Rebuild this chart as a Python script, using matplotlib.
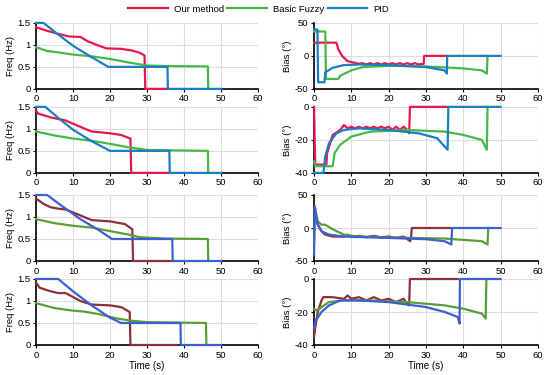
import matplotlib
matplotlib.use("Agg")
import matplotlib.pyplot as plt

plt.rcParams['font.family'] = ['Liberation Sans', 'DejaVu Sans']

LABELS = ["Our method", "Basic Fuzzy", "PID"]
COLORS_TOP = ["#e8174a", "#46b84a", "#1a7fc1"]
COLORS_BOT = ["#8e2f3c", "#5a9e3a", "#3d5fd2"]

# ---- frequency curves (time, Hz) ----
f1_our_t = [0, 3, 6, 9, 12, 14, 17, 19, 23, 26, 28, 29.3, 29.5, 35]
f1_our_v = [1.4, 1.32, 1.25, 1.19, 1.18, 1.08, 0.98, 0.92, 0.91, 0.87, 0.82, 0.76, 0, 0]
f1_fuz_t = [0, 1, 3, 5, 10, 15, 20, 25, 30, 35, 46.4, 46.5]
f1_fuz_v = [0.94, 0.92, 0.86, 0.84, 0.78, 0.74, 0.68, 0.6, 0.53, 0.52, 0.51, 0]
f1_pid_t = [0, 2, 5, 10, 15, 19.5, 35.5, 35.6, 50]
f1_pid_v = [1.5, 1.5, 1.3, 0.98, 0.72, 0.5, 0.5, 0, 0]

f2_our_t = [0, 0.5, 4, 8, 11, 15, 20, 23, 25.5, 25.7, 36]
f2_our_v = [1.42, 1.35, 1.26, 1.19, 1.08, 0.94, 0.9, 0.86, 0.78, 0, 0]
f2_fuz_t = [0, 5, 10, 15, 20, 25, 30, 46.4, 46.5]
f2_fuz_v = [0.94, 0.85, 0.78, 0.73, 0.66, 0.58, 0.52, 0.5, 0]
f2_pid_t = [0, 2.5, 6, 10, 15, 20, 36, 36.1, 50]
f2_pid_v = [1.5, 1.5, 1.25, 0.98, 0.72, 0.5, 0.5, 0, 0]

f3_our_t = [0, 2, 4, 6, 8, 11, 15, 20, 24, 26, 26.2, 37]
f3_our_v = [1.42, 1.3, 1.22, 1.19, 1.17, 1.07, 0.93, 0.9, 0.84, 0.72, 0, 0]
f3_fuz_t = [0, 5, 10, 15, 20, 25, 28, 35, 46.4, 46.5]
f3_fuz_v = [0.95, 0.86, 0.8, 0.76, 0.68, 0.6, 0.54, 0.51, 0.5, 0]
f3_pid_t = [0, 3, 7, 12, 17, 20.5, 36.8, 36.9, 50]
f3_pid_v = [1.5, 1.5, 1.25, 0.95, 0.7, 0.5, 0.5, 0, 0]

f4_our_t = [0, 1, 4, 6, 8, 12, 15, 20, 23, 25.3, 25.5, 38]
f4_our_v = [1.42, 1.3, 1.22, 1.18, 1.18, 1.0, 0.92, 0.9, 0.86, 0.75, 0, 0]
f4_fuz_t = [0, 5, 10, 13, 17, 22, 26, 30, 45.9, 46]
f4_fuz_v = [0.95, 0.84, 0.78, 0.76, 0.7, 0.6, 0.55, 0.52, 0.5, 0]
f4_pid_t = [0, 6, 10, 15, 20, 23, 39, 39.1, 50]
f4_pid_v = [1.5, 1.5, 1.22, 0.9, 0.62, 0.5, 0.5, 0, 0]

# ---- bias curves (time, deg) ----
b1_our_t = [0, 6, 6.5, 7.5, 9, 12, 13, 14, 15, 16, 17, 18, 19, 20, 21, 22, 23, 24, 25, 26, 27, 28, 29.4, 29.5, 35.5]
b1_our_v = [20, 20, 10, 0, -8, -12, -11, -13, -11, -13, -11, -13, -11, -13, -11, -13, -11, -13, -11, -13, -11, -13, -12, 0, 0]
b1_fuz_t = [0, 3, 3.2, 6.5, 7, 10, 13, 20, 30, 40, 45, 46.3, 46.5]
b1_fuz_v = [37, 37, -35, -35, -30, -22, -17, -15, -16, -19, -22, -27, 0]
b1_pid_t = [0, 0.9, 1.1, 2.8, 3, 5, 8, 12, 20, 30, 35, 35.6, 35.7, 50]
b1_pid_v = [40, 40, -40, -40, -25, -18, -14, -13, -14, -17, -22, -27, 0, 0]

b2_our_t = [0, 0.3, 3.3, 3.5, 5, 7, 8, 9, 10, 11, 12, 13, 14, 15, 16, 17, 18, 19, 20, 21, 22, 23, 24, 25, 25.5, 25.7, 36]
b2_our_v = [0, -35, -35, -28, -17, -14, -11, -13, -12, -13, -12, -13, -12, -13, -12, -13, -12, -13, -12, -14, -12, -14, -12, -14, -16, 0, 0]
b2_fuz_t = [0, 0.3, 5, 5.5, 7, 10, 15, 25, 35, 40, 45, 46.3, 46.5]
b2_fuz_v = [-33, -36, -36, -28, -23, -18, -15, -14, -15, -17, -20, -26, 0]
b2_pid_t = [0, 2.5, 3, 4, 6, 8, 12, 20, 28, 33, 35.8, 36, 50]
b2_pid_v = [-40, -40, -30, -22, -16, -14, -13, -14, -16, -19, -26, 0, 0]

b3_our_t = [0, 0.5, 1, 2, 3, 5, 8, 9, 10, 12, 14, 16, 18, 20, 22, 24, 25.8, 26, 26.2, 36.5]
b3_our_v = [30, 15, 5, -5, -10, -13, -13, -10, -13, -12, -14, -12, -14, -13, -15, -13, -20, -15, 0, 0]
b3_fuz_t = [0, 0.3, 1, 2, 3, 5, 8, 12, 25, 35, 40, 45, 46.5, 46.7]
b3_fuz_v = [-20, 30, 10, 5, 5, -2, -10, -13, -15, -16, -18, -20, -25, 0]
b3_pid_t = [0, 0.2, 0.5, 1, 2, 4, 8, 20, 30, 35, 36.8, 37, 50]
b3_pid_v = [-40, 33, 20, 5, -5, -10, -13, -15, -17, -20, -25, 0, 0]

b4_our_t = [0, 0.3, 1, 2, 2.5, 5, 8, 9, 10, 12, 14, 16, 18, 20, 22, 24, 25.3, 25.5, 25.7, 38.5]
b4_our_v = [-35, -30, -20, -13, -11, -11, -12, -10, -12, -11, -13, -11, -13, -12, -14, -12, -16, -15, 0, 0]
b4_fuz_t = [0, 0.5, 1.5, 2, 4, 8, 15, 25, 35, 40, 45, 46, 46.2]
b4_fuz_v = [-18, -19, -18, -17, -14, -13, -13, -14, -16, -18, -21, -24, 0]
b4_pid_t = [0, 0.5, 2, 4, 7, 12, 20, 30, 35, 38.5, 39, 39.1, 50]
b4_pid_v = [-30, -25, -20, -16, -13, -13, -14, -17, -20, -23, -27, 0, 0]

freq_rows = [
    [(f1_our_t, f1_our_v), (f1_fuz_t, f1_fuz_v), (f1_pid_t, f1_pid_v)],
    [(f2_our_t, f2_our_v), (f2_fuz_t, f2_fuz_v), (f2_pid_t, f2_pid_v)],
    [(f3_our_t, f3_our_v), (f3_fuz_t, f3_fuz_v), (f3_pid_t, f3_pid_v)],
    [(f4_our_t, f4_our_v), (f4_fuz_t, f4_fuz_v), (f4_pid_t, f4_pid_v)],
]
bias_rows = [
    [(b1_our_t, b1_our_v), (b1_fuz_t, b1_fuz_v), (b1_pid_t, b1_pid_v)],
    [(b2_our_t, b2_our_v), (b2_fuz_t, b2_fuz_v), (b2_pid_t, b2_pid_v)],
    [(b3_our_t, b3_our_v), (b3_fuz_t, b3_fuz_v), (b3_pid_t, b3_pid_v)],
    [(b4_our_t, b4_our_v), (b4_fuz_t, b4_fuz_v), (b4_pid_t, b4_pid_v)],
]
bias_lims = [(-50, 50), (-40, 0), (-50, 50), (-40, 0)]
bias_ticks = [[-50, 0, 50], [-40, -20, 0], [-50, 0, 50], [-40, -20, 0]]

row_bottoms = [0.763, 0.539, 0.304, 0.08]
ax_h = 0.176


def style_axes(ax, ylabel, ylim, yticks, yticklabels):
    ax.set_xlim(0, 60)
    ax.set_ylim(*ylim)
    ax.set_xticks([0, 10, 20, 30, 40, 50, 60])
    ax.set_yticks(yticks)
    ax.set_yticklabels(yticklabels)
    ax.grid(True, color="#dddddd", linewidth=0.8)
    ax.set_axisbelow(True)
    for s in ["top", "right"]:
        ax.spines[s].set_visible(False)
    for s in ["left", "bottom"]:
        ax.spines[s].set_linewidth(1.2)
        ax.spines[s].set_color("black")
    ax.tick_params(labelsize=6.8, length=2.5, width=0.8, pad=1.5)
    ax.set_ylabel(ylabel, fontsize=6.8, labelpad=2)


fig = plt.figure(figsize=(5.5, 3.75), dpi=100)

for i in range(4):
    colors = COLORS_TOP if i < 2 else COLORS_BOT
    axl = fig.add_axes([0.0655, row_bottoms[i], 0.404, ax_h])
    for (t, v), c, lab in zip(freq_rows[i], colors, LABELS):
        axl.plot(t, v, color=c, linewidth=1.6, label=lab, clip_on=False, zorder=3)
    style_axes(axl, "Freq (Hz)", (0, 1.5), [0, 0.5, 1, 1.5], ["0", "0.5", "1", "1.5"])

    axr = fig.add_axes([0.571, row_bottoms[i], 0.407, ax_h])
    for (t, v), c in zip(bias_rows[i], colors):
        axr.plot(t, v, color=c, linewidth=1.6, clip_on=False, zorder=3)
    style_axes(axr, "Bias (\u00b0)", bias_lims[i], bias_ticks[i],
               [str(v) for v in bias_ticks[i]])

    if i == 3:
        axl.set_xlabel("Time (s)", fontsize=7, labelpad=1)
        axr.set_xlabel("Time (s)", fontsize=7, labelpad=1)
    if i == 0:
        handles, labels = axl.get_legend_handles_labels()

fig.legend(handles, labels, loc="upper center", bbox_to_anchor=(0.47, 1.01),
           ncol=3, frameon=False, fontsize=6.8, handlelength=4.2,
           columnspacing=0.4, handletextpad=0.6)

fig.savefig("out.png", dpi=100)
